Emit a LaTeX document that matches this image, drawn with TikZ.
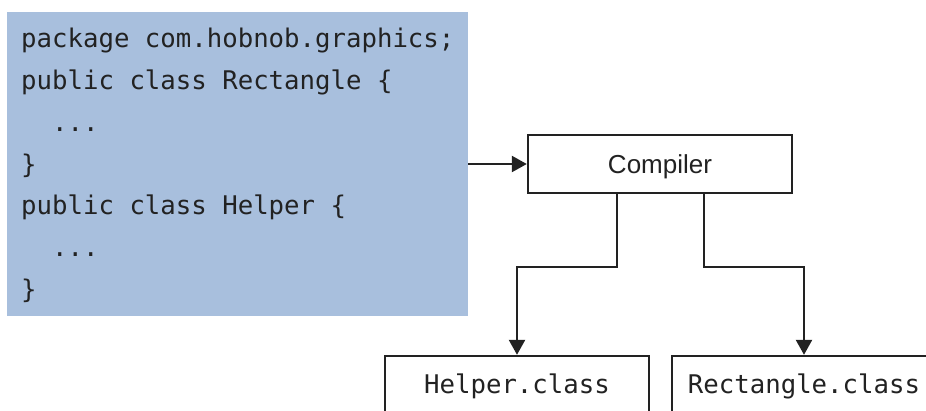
\documentclass[tikz,border=0pt]{standalone}
\usepackage{fontspec}
\setmainfont{Liberation Sans}
\newfontfamily\codefont{DejaVu Sans Mono}
\usetikzlibrary{arrows.meta}
\definecolor{srcblue}{HTML}{A8BFDD}
\definecolor{ink}{HTML}{222222}
\tikzset{
  codeline/.style={anchor=base west, inner sep=0pt, text=ink,
    font=\codefont\fontsize{25.7}{30}\selectfont},
  srcbox/.style={fill=srcblue, draw=none, inner sep=0pt, anchor=north west},
  toolbox/.style={draw=ink, line width=2.4pt, fill=white, inner sep=0pt,
    minimum width=264pt, text height=38pt, text depth=20pt, anchor=base,
    text=ink, font=\fontsize{26}{30}\selectfont},
  filebox/.style={draw=ink, line width=2.4pt, fill=white, inner sep=0pt,
    minimum width=264pt, text height=37pt, text depth=40pt, anchor=base,
    text=ink, font=\codefont\fontsize{25.7}{30}\selectfont},
  flow/.style={draw=ink, line width=2.4pt, -{Triangle[length=15pt,width=16pt]}},
}
\begin{document}
\begin{tikzpicture}[x=1pt,y=-1pt]
\useasboundingbox (0,0) rectangle (926,410);
\clip (0,0) rectangle (926,410);

% source file
\node[srcbox, minimum width=461pt, minimum height=304pt] (src) at (7,12) {};
\node[codeline] (l1) at (21,47)  {package com.hobnob.graphics;};
\node[codeline] (l2) at (21,89)  {public class Rectangle \{};
\node[codeline] (l3) at (21,131) {\ \ ...};
\node[codeline] (l4) at (21,173) {\}};
\node[codeline] (l5) at (21,214) {public class Helper \{};
\node[codeline] (l6) at (21,256) {\ \ ...};
\node[codeline] (l7) at (21,298) {\}};

% compiler and its outputs
\node[toolbox] (tool) at (660,173) {Compiler};
\node[filebox] (helper) at (517,393) {Helper.class};
\node[filebox] (rect) at (804,393) {Rectangle.class};

% connectors
\draw[flow] (src.east |- tool.west) -- (tool.west);
\draw[flow] ([xshift=-43pt]tool.south) -- ++(0,73) -| (helper.north);
\draw[flow] ([xshift=44pt]tool.south) -- ++(0,73) -| (rect.north);
\end{tikzpicture}
\end{document}
